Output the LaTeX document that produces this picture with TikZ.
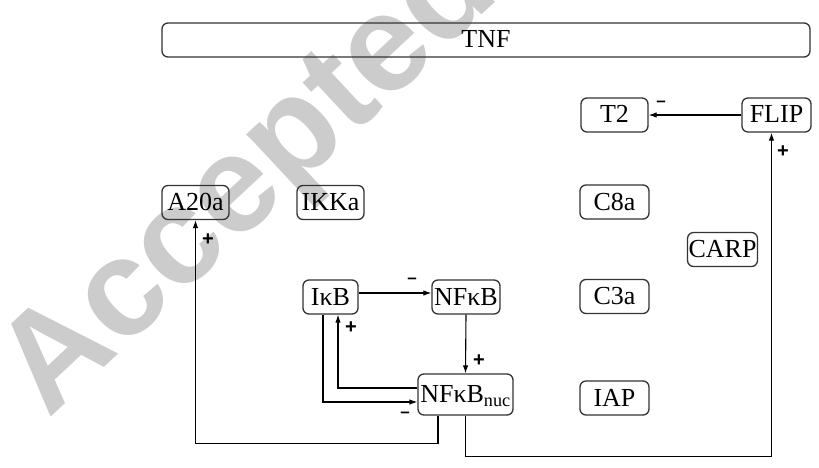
\documentclass[tikz,border=0pt]{standalone}
\usepackage{fontspec}
\setmainfont{Liberation Serif}
\newfontfamily\wmfont{Liberation Sans}
\newfontfamily\signfont{Liberation Sans}
\usetikzlibrary{arrows.meta}
\tikzset{
  box/.style={draw=black!80, line width=1.3pt, rounded corners=6pt, minimum height=34pt,
    inner sep=1pt, font=\fontsize{26}{28}\selectfont, text height=17pt, text depth=1pt},
  arr/.style={line width=1.1pt, -{Latex[length=8pt,width=5.5pt]}},
  sgn/.style={font=\signfont\bfseries\fontsize{20}{20}\selectfont, inner sep=0pt},
  msgn/.style={font=\signfont\bfseries\fontsize{17}{17}\selectfont, inner sep=0pt}
}
\begin{document}
\begin{tikzpicture}[x=1pt,y=-1pt]
\useasboundingbox (0,0) rectangle (819,468);
% watermark
\node[rotate=43, anchor=base west, text=black!20, font=\wmfont\bfseries\fontsize{138}{138}\selectfont, inner sep=0pt] (wm) at (48,420) {Accepted};
% nodes
\node[box, minimum width=648pt] (TNF) at (486,40) {TNF};
\node[box, minimum width=67pt] (T2) at (614.5,115) {T2};
\node[box, minimum width=69pt] (FLIP) at (776.5,115) {FLIP};
\node[box, minimum width=67pt] (A20a) at (195.5,202.5) {A20a};
\node[box, minimum width=67pt] (IKKa) at (330.5,202.5) {IKKa};
\node[box, minimum width=69pt] (C8a) at (614.5,202) {C8a};
\node[box, minimum width=69pt] (CARP) at (722.5,249.5) {CARP};
\node[box, minimum width=55pt] (IkB) at (330.5,297) {IκB};
\node[box, minimum width=68pt] (NFkB) at (466,297) {NFκB};
\node[box, minimum width=69pt] (C3a) at (614.5,296.5) {C3a};
\node[box, minimum width=95pt, minimum height=41pt] (nuc) at (465.5,394.5) {NFκB\textsubscript{nuc}};
\node[box, minimum width=69pt] (IAP) at (614.5,398) {IAP};
% connectors
\draw[arr] (FLIP.west) -- (T2.east);
\draw[arr] ([yshift=4pt]IkB.east) -- ([yshift=4pt]NFkB.west);
\draw[arr] (NFkB.south) -- (nuc.north);
\draw[arr] ([yshift=6.5pt]nuc.west) -| ([xshift=7.5pt]IkB.south);
\draw[arr] ([xshift=-7.5pt]IkB.south) |- ([yshift=-7.5pt]nuc.west);
\draw[arr] ([xshift=-27.5pt]nuc.south) -- ++(0,28) -| (A20a.south);
\draw[arr] (nuc.south) -- ++(0,41) -| ([xshift=-5pt]FLIP.south);
% signs
\node[msgn] (s1) at (661,104) {–};
\node[sgn] (s2) at (783,152) {+};
\node[sgn] (s3) at (208,240) {+};
\node[msgn] (s4) at (412,281) {–};
\node[sgn] (s5) at (351,328) {+};
\node[sgn] (s6) at (479,361) {+};
\node[msgn] (s7) at (405,415) {–};
\end{tikzpicture}
\end{document}
